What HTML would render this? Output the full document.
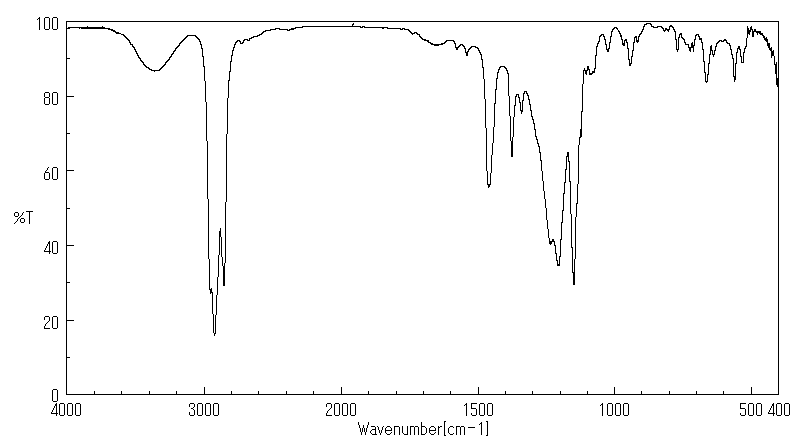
<!DOCTYPE html>
<html lang="en">
<head>
<meta charset="utf-8">
<title>IR Spectrum - Transmittance vs Wavenumber</title>
<style>
html,body{margin:0;padding:0;background:#fff;}
body{width:800px;height:441px;overflow:hidden;font-family:"Liberation Sans",sans-serif;}
svg{display:block;}
svg text{font-family:"Liberation Sans",sans-serif;font-size:15px;fill:#000;fill-opacity:0;stroke:none;}
</style>
</head>
<body>
<svg width="800" height="441" viewBox="0 0 800 441" shape-rendering="crispEdges" role="img" aria-label="Infrared spectrum, percent transmittance versus wavenumber">
<rect x="0" y="0" width="800" height="441" fill="#ffffff"/>
<!-- plot frame and tick marks -->
<path id="axes" fill="#000000" d="M66 21h713v1h-713zM66 22h1v36h-1zM778 22h1v372h-1zM66 58h4v1h-4zM66 59h1v37h-1zM66 96h8v1h-8zM66 97h1v36h-1zM66 133h4v1h-4zM66 134h1v36h-1zM66 170h8v1h-8zM66 171h1v37h-1zM66 208h4v1h-4zM66 209h1v36h-1zM66 245h8v1h-8zM66 246h1v36h-1zM66 282h4v1h-4zM66 283h1v37h-1zM66 320h8v1h-8zM66 321h1v36h-1zM66 357h4v1h-4zM66 358h1v36h-1zM204 387h1v7h-1zM341 387h1v7h-1zM478 387h1v7h-1zM614 387h1v7h-1zM751 387h1v7h-1zM94 391h1v3h-1zM121 391h1v3h-1zM149 391h1v3h-1zM176 391h1v3h-1zM231 391h1v3h-1zM258 391h1v3h-1zM286 391h1v3h-1zM313 391h1v3h-1zM368 391h1v3h-1zM396 391h1v3h-1zM423 391h1v3h-1zM450 391h1v3h-1zM505 391h1v3h-1zM532 391h1v3h-1zM560 391h1v3h-1zM587 391h1v3h-1zM641 391h1v3h-1zM669 391h1v3h-1zM696 391h1v3h-1zM723 391h1v3h-1zM66 394h713v1h-713z"/>
<!-- axis labels drawn as pixel glyphs (thin bitmap font look) -->
<path id="labels" fill="#000000" d="M39 17h1v13h-1zM45 17h4v1h-4zM53 17h4v1h-4zM38 18h1v1h-1zM44 18h1v11h-1zM49 18h1v11h-1zM52 18h1v11h-1zM57 18h1v11h-1zM37 19h1v1h-1zM45 29h4v1h-4zM53 29h4v1h-4zM45 92h4v1h-4zM53 92h4v1h-4zM44 93h1v4h-1zM49 93h1v4h-1zM52 93h1v11h-1zM57 93h1v11h-1zM45 97h4v1h-4zM44 98h1v6h-1zM49 98h1v6h-1zM45 104h4v1h-4zM53 104h4v1h-4zM48 167h1v1h-1zM53 167h4v1h-4zM47 168h1v2h-1zM52 168h1v11h-1zM57 168h1v11h-1zM46 170h1v1h-1zM45 171h1v1h-1zM45 172h4v1h-4zM44 173h1v6h-1zM49 173h1v6h-1zM45 179h4v1h-4zM53 179h4v1h-4zM26 211h7v1h-7zM15 212h3v1h-3zM23 212h1v1h-1zM29 212h1v12h-1zM14 213h1v3h-1zM18 213h1v3h-1zM22 213h1v2h-1zM21 215h1v1h-1zM15 216h3v1h-3zM20 216h1v1h-1zM19 217h1v1h-1zM18 218h1v1h-1zM21 218h3v1h-3zM17 219h1v2h-1zM20 219h1v3h-1zM24 219h1v3h-1zM16 221h1v1h-1zM15 222h1v1h-1zM21 222h3v1h-3zM14 223h1v1h-1zM49 241h1v10h-1zM53 241h4v1h-4zM48 242h1v2h-1zM52 242h1v11h-1zM57 242h1v11h-1zM47 244h1v2h-1zM46 246h1v2h-1zM45 248h1v2h-1zM44 250h1v1h-1zM44 251h7v1h-7zM49 252h1v2h-1zM53 253h4v1h-4zM45 316h4v1h-4zM53 316h4v1h-4zM44 317h1v3h-1zM49 317h1v4h-1zM52 317h1v11h-1zM57 317h1v11h-1zM48 321h1v1h-1zM47 322h1v1h-1zM46 323h1v1h-1zM45 324h1v2h-1zM44 326h1v2h-1zM44 328h6v1h-6zM53 328h4v1h-4zM53 389h4v1h-4zM52 390h1v11h-1zM57 390h1v11h-1zM53 401h4v1h-4zM56 403h1v10h-1zM60 403h4v1h-4zM68 403h4v1h-4zM76 403h4v1h-4zM190 403h4v1h-4zM198 403h4v1h-4zM206 403h4v1h-4zM214 403h4v1h-4zM327 403h4v1h-4zM335 403h4v1h-4zM343 403h4v1h-4zM351 403h4v1h-4zM466 403h1v13h-1zM471 403h6v1h-6zM480 403h4v1h-4zM488 403h4v1h-4zM602 403h1v13h-1zM608 403h4v1h-4zM616 403h4v1h-4zM624 403h4v1h-4zM740 403h6v1h-6zM749 403h4v1h-4zM757 403h4v1h-4zM773 403h1v10h-1zM777 403h4v1h-4zM785 403h4v1h-4zM55 404h1v2h-1zM59 404h1v11h-1zM64 404h1v11h-1zM67 404h1v11h-1zM72 404h1v11h-1zM75 404h1v11h-1zM80 404h1v11h-1zM189 404h1v3h-1zM194 404h1v3h-1zM197 404h1v11h-1zM202 404h1v11h-1zM205 404h1v11h-1zM210 404h1v11h-1zM213 404h1v11h-1zM218 404h1v11h-1zM326 404h1v3h-1zM331 404h1v4h-1zM334 404h1v11h-1zM339 404h1v11h-1zM342 404h1v11h-1zM347 404h1v11h-1zM350 404h1v11h-1zM355 404h1v11h-1zM465 404h1v1h-1zM471 404h1v4h-1zM479 404h1v11h-1zM484 404h1v11h-1zM487 404h1v11h-1zM492 404h1v11h-1zM601 404h1v1h-1zM607 404h1v11h-1zM612 404h1v11h-1zM615 404h1v11h-1zM620 404h1v11h-1zM623 404h1v11h-1zM628 404h1v11h-1zM740 404h1v4h-1zM748 404h1v11h-1zM753 404h1v11h-1zM756 404h1v11h-1zM761 404h1v11h-1zM772 404h1v2h-1zM776 404h1v11h-1zM781 404h1v11h-1zM784 404h1v11h-1zM789 404h1v11h-1zM464 405h1v1h-1zM600 405h1v1h-1zM54 406h1v2h-1zM771 406h1v2h-1zM193 407h1v1h-1zM53 408h1v2h-1zM191 408h1v1h-1zM192 408h1v1h-1zM330 408h1v1h-1zM471 408h5v1h-5zM740 408h5v1h-5zM770 408h1v2h-1zM193 409h1v1h-1zM329 409h1v1h-1zM476 409h1v6h-1zM745 409h1v6h-1zM52 410h1v2h-1zM194 410h1v5h-1zM328 410h1v1h-1zM769 410h1v2h-1zM327 411h1v2h-1zM51 412h1v1h-1zM189 412h1v3h-1zM768 412h1v1h-1zM51 413h7v1h-7zM326 413h1v2h-1zM471 413h1v2h-1zM740 413h1v2h-1zM768 413h7v1h-7zM56 414h1v2h-1zM773 414h1v2h-1zM60 415h4v1h-4zM68 415h4v1h-4zM76 415h4v1h-4zM190 415h4v1h-4zM198 415h4v1h-4zM206 415h4v1h-4zM214 415h4v1h-4zM326 415h6v1h-6zM335 415h4v1h-4zM343 415h4v1h-4zM351 415h4v1h-4zM472 415h4v1h-4zM480 415h4v1h-4zM488 415h4v1h-4zM608 415h4v1h-4zM616 415h4v1h-4zM624 415h4v1h-4zM741 415h4v1h-4zM749 415h4v1h-4zM757 415h4v1h-4zM777 415h4v1h-4zM785 415h4v1h-4zM444 421h1v15h-1zM445 421h1v1h-1zM486 421h1v1h-1zM487 421h1v15h-1zM358 422h1v3h-1zM368 422h1v3h-1zM421 422h1v4h-1zM481 422h1v13h-1zM480 423h1v1h-1zM479 424h1v1h-1zM359 425h1v3h-1zM363 425h1v3h-1zM367 425h1v3h-1zM371 426h4v1h-4zM377 426h1v1h-1zM383 426h1v1h-1zM387 426h3v1h-3zM394 426h5v1h-5zM402 426h1v7h-1zM407 426h1v8h-1zM410 426h4v1h-4zM415 426h3v1h-3zM421 426h4v1h-4zM431 426h3v1h-3zM438 426h1v9h-1zM440 426h1v1h-1zM441 426h1v1h-1zM450 426h3v1h-3zM456 426h4v1h-4zM461 426h3v1h-3zM375 427h1v2h-1zM378 427h1v3h-1zM382 427h1v3h-1zM386 427h1v1h-1zM390 427h1v1h-1zM394 427h1v8h-1zM399 427h1v8h-1zM410 427h1v8h-1zM414 427h1v8h-1zM418 427h1v8h-1zM421 427h1v7h-1zM425 427h1v1h-1zM430 427h1v1h-1zM434 427h1v1h-1zM439 427h1v1h-1zM449 427h1v1h-1zM453 427h1v1h-1zM456 427h1v8h-1zM460 427h1v8h-1zM464 427h1v8h-1zM468 427h7v1h-7zM360 428h1v4h-1zM362 428h1v4h-1zM364 428h1v4h-1zM366 428h1v4h-1zM385 428h1v2h-1zM391 428h1v2h-1zM426 428h1v5h-1zM429 428h1v2h-1zM435 428h1v2h-1zM448 428h1v5h-1zM372 429h4v1h-4zM371 430h1v1h-1zM375 430h1v4h-1zM379 430h1v3h-1zM381 430h1v3h-1zM385 430h7v1h-7zM429 430h7v1h-7zM370 431h1v2h-1zM385 431h1v2h-1zM429 431h1v2h-1zM361 432h1v3h-1zM365 432h1v3h-1zM391 432h1v1h-1zM435 432h1v1h-1zM371 433h1v1h-1zM380 433h1v2h-1zM386 433h1v1h-1zM390 433h1v1h-1zM403 433h1v1h-1zM425 433h1v1h-1zM430 433h1v1h-1zM434 433h1v1h-1zM449 433h1v1h-1zM453 433h1v1h-1zM372 434h5v1h-5zM387 434h3v1h-3zM404 434h4v1h-4zM421 434h4v1h-4zM431 434h3v1h-3zM450 434h3v1h-3zM445 435h1v1h-1zM486 435h1v1h-1z"/>
<!-- spectrum trace -->
<path id="trace" fill="#000000" d="M353 23h1v2h-1zM646 23h5v1h-5zM352 24h1v2h-1zM644 24h3v1h-3zM650 24h1v1h-1zM651 24h1v2h-1zM644 25h1v2h-1zM670 25h1v1h-1zM671 25h1v1h-1zM87 26h1v1h-1zM102 26h1v1h-1zM302 26h59v1h-59zM362 26h3v1h-3zM643 26h1v4h-1zM651 26h3v1h-3zM657 26h5v1h-5zM669 26h4v1h-4zM747 26h1v4h-1zM751 26h1v3h-1zM68 27h37v1h-37zM295 27h8v1h-8zM360 27h3v1h-3zM364 27h24v1h-24zM614 27h3v1h-3zM653 27h5v1h-5zM661 27h1v1h-1zM662 27h1v2h-1zM669 27h1v2h-1zM672 27h1v1h-1zM673 27h1v3h-1zM750 27h1v2h-1zM67 28h3v1h-3zM79 28h1v1h-1zM81 28h29v1h-29zM275 28h5v1h-5zM291 28h5v1h-5zM382 28h1v1h-1zM383 28h1v1h-1zM387 28h14v1h-14zM402 28h3v1h-3zM613 28h1v2h-1zM614 28h1v1h-1zM616 28h1v1h-1zM617 28h1v2h-1zM663 28h1v2h-1zM665 28h1v1h-1zM666 28h1v1h-1zM748 28h1v2h-1zM108 29h5v1h-5zM270 29h6v1h-6zM279 29h9v1h-9zM289 29h5v1h-5zM400 29h3v1h-3zM404 29h5v1h-5zM612 29h1v3h-1zM642 29h1v3h-1zM665 29h5v1h-5zM674 29h1v3h-1zM750 29h3v1h-3zM754 29h1v2h-1zM755 29h1v2h-1zM111 30h4v1h-4zM265 30h6v1h-6zM287 30h3v1h-3zM408 30h1v1h-1zM409 30h1v2h-1zM618 30h1v2h-1zM663 30h3v1h-3zM667 30h1v1h-1zM668 30h1v2h-1zM747 30h4v1h-4zM752 30h1v1h-1zM113 31h3v1h-3zM263 31h3v1h-3zM410 31h1v2h-1zM611 31h1v6h-1zM619 31h1v3h-1zM641 31h1v3h-1zM664 31h1v1h-1zM675 31h1v9h-1zM747 31h4v1h-4zM752 31h9v1h-9zM115 32h4v1h-4zM262 32h1v2h-1zM263 32h1v1h-1zM411 32h1v1h-1zM414 32h3v1h-3zM747 32h3v1h-3zM752 32h1v5h-1zM753 32h1v5h-1zM756 32h5v1h-5zM116 33h5v1h-5zM261 33h1v1h-1zM411 33h4v1h-4zM416 33h1v1h-1zM417 33h1v1h-1zM620 33h1v4h-1zM640 33h1v2h-1zM680 33h1v1h-1zM681 33h1v1h-1zM747 33h3v1h-3zM757 33h1v2h-1zM759 33h4v1h-4zM121 34h3v1h-3zM259 34h3v1h-3zM412 34h1v1h-1zM417 34h3v1h-3zM601 34h3v1h-3zM639 34h1v3h-1zM679 34h3v1h-3zM696 34h3v1h-3zM747 34h1v4h-1zM749 34h1v1h-1zM760 34h3v1h-3zM123 35h1v1h-1zM124 35h1v2h-1zM187 35h9v1h-9zM257 35h3v1h-3zM419 35h1v2h-1zM600 35h1v2h-1zM601 35h1v1h-1zM603 35h1v2h-1zM621 35h1v5h-1zM679 35h1v3h-1zM681 35h1v3h-1zM695 35h1v5h-1zM696 35h1v1h-1zM698 35h1v2h-1zM762 35h1v1h-1zM763 35h1v3h-1zM125 36h1v2h-1zM186 36h1v2h-1zM187 36h1v1h-1zM195 36h1v1h-1zM196 36h1v2h-1zM253 36h5v1h-5zM420 36h1v2h-1zM599 36h1v6h-1zM604 36h1v4h-1zM610 36h1v7h-1zM635 36h1v1h-1zM636 36h1v1h-1zM638 36h1v4h-1zM699 36h1v2h-1zM764 36h1v2h-1zM126 37h1v2h-1zM185 37h1v2h-1zM197 37h1v2h-1zM251 37h3v1h-3zM421 37h1v2h-1zM634 37h3v1h-3zM678 37h1v12h-1zM682 37h1v2h-1zM766 37h1v1h-1zM127 38h1v2h-1zM184 38h1v2h-1zM198 38h1v2h-1zM249 38h3v1h-3zM422 38h1v1h-1zM634 38h1v5h-1zM636 38h1v2h-1zM683 38h1v2h-1zM699 38h3v1h-3zM746 38h1v9h-1zM764 38h3v1h-3zM128 39h1v2h-1zM183 39h1v2h-1zM199 39h1v3h-1zM244 39h4v1h-4zM249 39h1v1h-1zM422 39h4v1h-4zM605 39h1v6h-1zM622 39h1v4h-1zM625 39h1v1h-1zM626 39h1v1h-1zM676 39h1v10h-1zM684 39h1v4h-1zM694 39h1v6h-1zM699 39h3v1h-3zM724 39h1v1h-1zM725 39h1v1h-1zM764 39h4v1h-4zM129 40h1v3h-1zM182 40h1v2h-1zM237 40h3v1h-3zM243 40h1v3h-1zM244 40h1v1h-1zM247 40h3v1h-3zM424 40h5v1h-5zM446 40h8v1h-8zM624 40h3v1h-3zM636 40h3v1h-3zM701 40h1v3h-1zM719 40h3v1h-3zM723 40h4v1h-4zM765 40h3v1h-3zM181 41h1v2h-1zM200 41h1v4h-1zM236 41h1v2h-1zM237 41h1v1h-1zM239 41h1v1h-1zM240 41h1v2h-1zM427 41h1v1h-1zM428 41h1v1h-1zM445 41h1v2h-1zM446 41h1v1h-1zM453 41h1v1h-1zM454 41h1v3h-1zM598 41h1v3h-1zM624 41h1v2h-1zM626 41h1v2h-1zM636 41h3v1h-3zM718 41h1v2h-1zM719 41h1v1h-1zM721 41h3v1h-3zM726 41h1v2h-1zM766 41h1v1h-1zM767 41h1v2h-1zM130 42h1v2h-1zM180 42h1v2h-1zM235 42h1v3h-1zM242 42h1v1h-1zM428 42h3v1h-3zM444 42h1v1h-1zM609 42h1v7h-1zM627 42h1v7h-1zM633 42h1v9h-1zM637 42h1v1h-1zM685 42h1v2h-1zM692 42h1v3h-1zM702 42h1v8h-1zM717 42h1v2h-1zM727 42h1v1h-1zM179 43h1v3h-1zM240 43h3v1h-3zM430 43h3v1h-3zM441 43h4v1h-4zM455 43h1v4h-1zM597 43h1v4h-1zM622 43h3v1h-3zM691 43h1v2h-1zM716 43h1v4h-1zM727 43h3v1h-3zM767 43h3v1h-3zM130 44h3v1h-3zM201 44h1v5h-1zM234 44h1v4h-1zM431 44h12v1h-12zM460 44h3v1h-3zM606 44h1v5h-1zM622 44h3v1h-3zM685 44h4v1h-4zM729 44h1v2h-1zM767 44h3v1h-3zM132 45h1v2h-1zM178 45h1v2h-1zM434 45h5v1h-5zM459 45h1v2h-1zM460 45h1v1h-1zM462 45h1v1h-1zM463 45h1v2h-1zM623 45h1v1h-1zM624 45h1v1h-1zM688 45h1v2h-1zM691 45h4v1h-4zM711 45h1v5h-1zM730 45h1v5h-1zM767 45h3v1h-3zM133 46h1v2h-1zM177 46h1v2h-1zM458 46h1v1h-1zM464 46h1v3h-1zM471 46h5v1h-5zM596 46h1v10h-1zM691 46h3v1h-3zM710 46h1v4h-1zM715 46h1v5h-1zM738 46h1v2h-1zM739 46h1v2h-1zM745 46h1v3h-1zM768 46h1v2h-1zM769 46h1v2h-1zM134 47h1v3h-1zM176 47h1v2h-1zM233 47h1v4h-1zM455 47h4v1h-4zM470 47h1v2h-1zM471 47h1v1h-1zM475 47h3v1h-3zM688 47h6v1h-6zM771 47h1v1h-1zM175 48h1v3h-1zM202 48h1v9h-1zM456 48h1v2h-1zM457 48h1v2h-1zM465 48h1v4h-1zM469 48h1v2h-1zM477 48h1v1h-1zM478 48h1v3h-1zM608 48h1v1h-1zM628 48h1v12h-1zM689 48h1v3h-1zM690 48h1v4h-1zM693 48h1v4h-1zM737 48h3v1h-3zM744 48h1v5h-1zM769 48h3v1h-3zM135 49h1v3h-1zM468 49h1v3h-1zM606 49h3v1h-3zM676 49h3v1h-3zM703 49h1v13h-1zM731 49h1v6h-1zM737 49h1v4h-1zM739 49h1v1h-1zM740 49h1v8h-1zM769 49h3v1h-3zM174 50h1v2h-1zM232 50h1v6h-1zM479 50h1v3h-1zM607 50h1v2h-1zM608 50h1v2h-1zM632 50h1v7h-1zM677 50h1v2h-1zM710 50h3v1h-3zM714 50h1v4h-1zM770 50h1v1h-1zM771 50h1v1h-1zM773 50h1v1h-1zM136 51h1v3h-1zM173 51h1v3h-1zM467 51h1v1h-1zM710 51h1v4h-1zM712 51h1v3h-1zM771 51h3v1h-3zM465 52h3v1h-3zM480 52h1v3h-1zM736 52h1v12h-1zM743 52h1v10h-1zM771 52h3v1h-3zM137 53h1v3h-1zM172 53h1v2h-1zM466 53h1v3h-1zM467 53h1v3h-1zM771 53h3v1h-3zM171 54h1v3h-1zM481 54h1v6h-1zM709 54h1v10h-1zM712 54h3v1h-3zM732 54h1v5h-1zM771 54h3v1h-3zM138 55h1v3h-1zM231 55h1v7h-1zM595 55h1v14h-1zM713 55h1v2h-1zM771 55h3v1h-3zM170 56h1v2h-1zM203 56h1v11h-1zM631 56h1v7h-1zM741 56h1v6h-1zM771 56h1v2h-1zM774 56h1v8h-1zM139 57h1v2h-1zM169 57h1v3h-1zM140 58h1v3h-1zM733 58h1v18h-1zM168 59h1v2h-1zM482 59h1v9h-1zM629 59h1v4h-1zM141 60h1v2h-1zM167 60h1v2h-1zM142 61h1v2h-1zM166 61h1v2h-1zM230 61h1v11h-1zM704 61h1v12h-1zM143 62h1v3h-1zM165 62h1v3h-1zM741 62h3v1h-3zM776 62h1v2h-1zM629 63h3v1h-3zM708 63h1v12h-1zM735 63h1v13h-1zM144 64h1v2h-1zM164 64h1v2h-1zM629 64h1v2h-1zM630 64h1v2h-1zM774 64h3v1h-3zM145 65h1v2h-1zM163 65h1v2h-1zM775 65h1v9h-1zM776 65h1v20h-1zM146 66h1v1h-1zM162 66h1v2h-1zM204 66h1v15h-1zM500 66h5v1h-5zM587 66h1v3h-1zM588 66h1v3h-1zM146 67h3v1h-3zM161 67h1v2h-1zM483 67h1v12h-1zM499 67h1v3h-1zM500 67h1v1h-1zM504 67h1v1h-1zM505 67h1v2h-1zM148 68h1v1h-1zM149 68h1v1h-1zM160 68h1v2h-1zM506 68h1v3h-1zM584 68h1v2h-1zM594 68h1v3h-1zM149 69h3v1h-3zM159 69h1v1h-1zM498 69h1v4h-1zM587 69h3v1h-3zM151 70h9v1h-9zM507 70h1v4h-1zM583 70h5v1h-5zM589 70h1v3h-1zM154 71h1v1h-1zM229 71h1v10h-1zM583 71h1v13h-1zM585 71h1v3h-1zM586 71h1v4h-1zM592 71h3v1h-3zM497 72h1v7h-1zM592 72h3v1h-3zM705 72h1v9h-1zM508 73h1v23h-1zM589 73h4v1h-4zM589 74h3v1h-3zM707 74h1v7h-1zM733 76h3v1h-3zM734 77h1v5h-1zM735 77h1v3h-1zM496 78h1v12h-1zM777 78h1v9h-1zM484 79h1v20h-1zM228 80h1v18h-1zM205 81h1v21h-1zM705 81h3v1h-3zM706 82h1v1h-1zM582 84h1v28h-1zM495 89h1v15h-1zM524 91h3v1h-3zM524 92h1v2h-1zM526 92h1v2h-1zM523 93h1v8h-1zM527 93h1v3h-1zM516 94h3v1h-3zM516 95h1v2h-1zM518 95h1v3h-1zM528 95h1v5h-1zM509 96h1v20h-1zM515 96h1v10h-1zM519 97h1v6h-1zM227 98h1v36h-1zM485 99h1v29h-1zM529 99h1v6h-1zM522 100h1v10h-1zM206 102h1v39h-1zM520 102h1v8h-1zM494 103h1v24h-1zM530 104h1v7h-1zM514 105h1v12h-1zM520 110h3v1h-3zM531 110h1v7h-1zM521 111h1v3h-1zM522 111h1v1h-1zM581 111h1v26h-1zM510 116h1v25h-1zM532 116h1v4h-1zM513 117h1v20h-1zM533 119h1v5h-1zM534 123h1v7h-1zM493 127h1v16h-1zM486 128h1v43h-1zM535 129h1v8h-1zM580 129h1v9h-1zM226 134h1v68h-1zM536 136h1v4h-1zM512 137h1v20h-1zM579 137h1v8h-1zM537 139h1v5h-1zM207 141h1v58h-1zM511 141h1v16h-1zM492 143h1v12h-1zM538 143h1v4h-1zM578 145h1v39h-1zM539 146h1v7h-1zM540 152h1v9h-1zM567 152h1v4h-1zM568 152h1v4h-1zM491 155h1v18h-1zM566 156h3v1h-3zM566 157h1v13h-1zM568 157h1v5h-1zM541 160h1v11h-1zM569 161h1v21h-1zM565 169h1v14h-1zM487 171h1v13h-1zM542 171h1v10h-1zM490 173h1v11h-1zM543 181h1v10h-1zM570 181h1v33h-1zM564 182h1v12h-1zM487 184h4v1h-4zM577 184h1v20h-1zM488 185h1v3h-1zM489 185h1v2h-1zM544 191h1v8h-1zM563 193h1v18h-1zM208 199h1v60h-1zM545 199h1v9h-1zM225 202h1v61h-1zM576 203h1v14h-1zM546 208h1v12h-1zM562 210h1v13h-1zM571 214h1v34h-1zM575 217h1v42h-1zM547 220h1v9h-1zM561 222h1v18h-1zM220 228h1v9h-1zM548 229h1v9h-1zM219 231h1v24h-1zM221 237h1v20h-1zM549 238h1v3h-1zM552 239h1v2h-1zM553 239h1v2h-1zM560 239h1v18h-1zM549 241h6v1h-6zM549 242h3v1h-3zM554 242h1v4h-1zM549 243h3v1h-3zM550 244h1v1h-1zM555 245h1v9h-1zM572 247h1v25h-1zM556 253h1v8h-1zM218 255h1v22h-1zM559 256h1v8h-1zM222 257h1v9h-1zM209 259h1v30h-1zM574 259h1v13h-1zM557 260h1v4h-1zM224 263h1v23h-1zM557 264h3v1h-3zM557 265h3v1h-3zM223 266h1v20h-1zM572 272h3v1h-3zM573 273h1v12h-1zM574 273h1v12h-1zM217 277h1v18h-1zM211 288h1v1h-1zM209 289h3v1h-3zM210 290h1v2h-1zM211 290h1v2h-1zM210 292h3v1h-3zM210 293h1v1h-1zM212 293h1v21h-1zM216 295h1v20h-1zM213 314h1v19h-1zM215 315h1v19h-1zM214 333h1v3h-1z"/>
<!-- same labels as real (invisible) text for semantics -->
<g id="label-text"><text x="60" y="30" text-anchor="end">100</text><text x="60" y="105" text-anchor="end">80</text><text x="60" y="180" text-anchor="end">60</text><text x="60" y="254" text-anchor="end">40</text><text x="60" y="329" text-anchor="end">20</text><text x="60" y="402" text-anchor="end">0</text><text x="67" y="416" text-anchor="middle">4000</text><text x="205" y="416" text-anchor="middle">3000</text><text x="342" y="416" text-anchor="middle">2000</text><text x="479" y="416" text-anchor="middle">1500</text><text x="615" y="416" text-anchor="middle">1000</text><text x="752" y="416" text-anchor="middle">500</text><text x="780" y="416" text-anchor="middle">400</text><text x="14" y="224">%T</text><text x="358" y="435">Wavenumber[cm-1]</text></g>
</svg>
</body>
</html>
